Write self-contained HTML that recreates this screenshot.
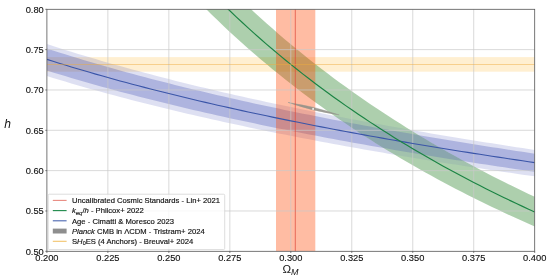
<!DOCTYPE html>
<html><head><meta charset="utf-8"><style>
html,body{margin:0;padding:0;background:#fff;}
svg{display:block;font-family:"Liberation Sans",sans-serif;will-change:transform;transform:translateZ(0);}
</style></head><body>
<svg width="550" height="279" viewBox="0 0 550 279">
<rect width="550" height="279" fill="#fff"/>
<defs><clipPath id="gin"><path d="M46.90,-260.93 L53.00,-249.63 L59.10,-238.60 L65.19,-227.84 L71.29,-217.33 L77.39,-207.08 L83.49,-197.06 L89.58,-187.27 L95.68,-177.70 L101.78,-168.35 L107.87,-159.20 L113.97,-150.26 L120.07,-141.51 L126.17,-132.95 L132.27,-124.57 L138.36,-116.37 L144.46,-108.34 L150.56,-100.47 L156.65,-92.77 L162.75,-85.22 L168.85,-77.82 L174.95,-70.57 L181.04,-63.46 L187.14,-56.49 L193.24,-49.65 L199.34,-42.94 L205.44,-36.36 L211.53,-29.90 L217.63,-23.56 L223.73,-17.34 L229.83,-11.23 L235.92,-5.23 L242.02,0.66 L248.12,6.44 L254.22,12.13 L260.31,17.72 L266.41,23.21 L272.51,28.60 L278.61,33.91 L284.70,39.13 L290.80,44.26 L296.90,49.30 L303.00,54.26 L309.09,59.14 L315.19,63.95 L321.29,68.67 L327.39,73.32 L333.48,77.90 L339.58,82.40 L345.68,86.84 L351.77,91.21 L357.87,95.51 L363.97,99.74 L370.07,103.92 L376.17,108.03 L382.26,112.08 L388.36,116.06 L394.46,120.00 L400.56,123.87 L406.65,127.69 L412.75,131.45 L418.85,135.16 L424.94,138.82 L431.04,142.43 L437.14,145.99 L443.24,149.49 L449.33,152.95 L455.43,156.37 L461.53,159.73 L467.63,163.05 L473.73,166.33 L479.82,169.56 L485.92,172.76 L492.02,175.91 L498.12,179.01 L504.21,182.08 L510.31,185.11 L516.41,188.10 L522.51,191.06 L528.60,193.97 L534.70,196.85 L534.70,226.50 L528.60,223.80 L522.51,221.08 L516.41,218.31 L510.31,215.52 L504.21,212.68 L498.12,209.81 L492.02,206.91 L485.92,203.96 L479.82,200.98 L473.73,197.95 L467.63,194.89 L461.53,191.78 L455.43,188.63 L449.33,185.44 L443.24,182.20 L437.14,178.92 L431.04,175.60 L424.94,172.22 L418.85,168.80 L412.75,165.33 L406.65,161.81 L400.56,158.24 L394.46,154.62 L388.36,150.94 L382.26,147.21 L376.17,143.42 L370.07,139.58 L363.97,135.68 L357.87,131.72 L351.77,127.69 L345.68,123.61 L339.58,119.46 L333.48,115.25 L327.39,110.97 L321.29,106.62 L315.19,102.20 L309.09,97.71 L303.00,93.14 L296.90,88.50 L290.80,83.78 L284.70,78.99 L278.61,74.11 L272.51,69.15 L266.41,64.10 L260.31,58.96 L254.22,53.74 L248.12,48.42 L242.02,43.01 L235.92,37.50 L229.83,31.89 L223.73,26.17 L217.63,20.35 L211.53,14.43 L205.44,8.39 L199.34,2.23 L193.24,-4.04 L187.14,-10.44 L181.04,-16.96 L174.95,-23.61 L168.85,-30.39 L162.75,-37.31 L156.65,-44.37 L150.56,-51.57 L144.46,-58.93 L138.36,-66.44 L132.27,-74.11 L126.17,-81.95 L120.07,-89.96 L113.97,-98.14 L107.87,-106.50 L101.78,-115.05 L95.68,-123.80 L89.58,-132.75 L83.49,-141.90 L77.39,-151.27 L71.29,-160.87 L65.19,-170.69 L59.10,-180.76 L53.00,-191.07 L46.90,-201.64Z"/></clipPath><clipPath id="gout"><path clip-rule="evenodd" d="M0,0H550V279H0Z M46.90,-260.93 L53.00,-249.63 L59.10,-238.60 L65.19,-227.84 L71.29,-217.33 L77.39,-207.08 L83.49,-197.06 L89.58,-187.27 L95.68,-177.70 L101.78,-168.35 L107.87,-159.20 L113.97,-150.26 L120.07,-141.51 L126.17,-132.95 L132.27,-124.57 L138.36,-116.37 L144.46,-108.34 L150.56,-100.47 L156.65,-92.77 L162.75,-85.22 L168.85,-77.82 L174.95,-70.57 L181.04,-63.46 L187.14,-56.49 L193.24,-49.65 L199.34,-42.94 L205.44,-36.36 L211.53,-29.90 L217.63,-23.56 L223.73,-17.34 L229.83,-11.23 L235.92,-5.23 L242.02,0.66 L248.12,6.44 L254.22,12.13 L260.31,17.72 L266.41,23.21 L272.51,28.60 L278.61,33.91 L284.70,39.13 L290.80,44.26 L296.90,49.30 L303.00,54.26 L309.09,59.14 L315.19,63.95 L321.29,68.67 L327.39,73.32 L333.48,77.90 L339.58,82.40 L345.68,86.84 L351.77,91.21 L357.87,95.51 L363.97,99.74 L370.07,103.92 L376.17,108.03 L382.26,112.08 L388.36,116.06 L394.46,120.00 L400.56,123.87 L406.65,127.69 L412.75,131.45 L418.85,135.16 L424.94,138.82 L431.04,142.43 L437.14,145.99 L443.24,149.49 L449.33,152.95 L455.43,156.37 L461.53,159.73 L467.63,163.05 L473.73,166.33 L479.82,169.56 L485.92,172.76 L492.02,175.91 L498.12,179.01 L504.21,182.08 L510.31,185.11 L516.41,188.10 L522.51,191.06 L528.60,193.97 L534.70,196.85 L534.70,226.50 L528.60,223.80 L522.51,221.08 L516.41,218.31 L510.31,215.52 L504.21,212.68 L498.12,209.81 L492.02,206.91 L485.92,203.96 L479.82,200.98 L473.73,197.95 L467.63,194.89 L461.53,191.78 L455.43,188.63 L449.33,185.44 L443.24,182.20 L437.14,178.92 L431.04,175.60 L424.94,172.22 L418.85,168.80 L412.75,165.33 L406.65,161.81 L400.56,158.24 L394.46,154.62 L388.36,150.94 L382.26,147.21 L376.17,143.42 L370.07,139.58 L363.97,135.68 L357.87,131.72 L351.77,127.69 L345.68,123.61 L339.58,119.46 L333.48,115.25 L327.39,110.97 L321.29,106.62 L315.19,102.20 L309.09,97.71 L303.00,93.14 L296.90,88.50 L290.80,83.78 L284.70,78.99 L278.61,74.11 L272.51,69.15 L266.41,64.10 L260.31,58.96 L254.22,53.74 L248.12,48.42 L242.02,43.01 L235.92,37.50 L229.83,31.89 L223.73,26.17 L217.63,20.35 L211.53,14.43 L205.44,8.39 L199.34,2.23 L193.24,-4.04 L187.14,-10.44 L181.04,-16.96 L174.95,-23.61 L168.85,-30.39 L162.75,-37.31 L156.65,-44.37 L150.56,-51.57 L144.46,-58.93 L138.36,-66.44 L132.27,-74.11 L126.17,-81.95 L120.07,-89.96 L113.97,-98.14 L107.87,-106.50 L101.78,-115.05 L95.68,-123.80 L89.58,-132.75 L83.49,-141.90 L77.39,-151.27 L71.29,-160.87 L65.19,-170.69 L59.10,-180.76 L53.00,-191.07 L46.90,-201.64Z"/></clipPath><clipPath id="c"><rect x="46.9" y="9.3" width="487.80000000000007" height="242.0"/></clipPath></defs>
<g clip-path="url(#c)">
<rect x="46.9" y="57.1" width="487.80000000000007" height="14.6" fill="#ffa500" fill-opacity="0.18"/>
<g clip-path="url(#gout)"><path d="M46.90,44.04 L53.00,46.01 L59.10,47.96 L65.19,49.88 L71.29,51.78 L77.39,53.65 L83.49,55.50 L89.58,57.32 L95.68,59.12 L101.78,60.90 L107.87,62.66 L113.97,64.39 L120.07,66.10 L126.17,67.80 L132.27,69.47 L138.36,71.12 L144.46,72.75 L150.56,74.37 L156.65,75.97 L162.75,77.54 L168.85,79.10 L174.95,80.65 L181.04,82.17 L187.14,83.68 L193.24,85.18 L199.34,86.65 L205.44,88.11 L211.53,89.56 L217.63,90.99 L223.73,92.41 L229.83,93.81 L235.92,95.20 L242.02,96.57 L248.12,97.93 L254.22,99.28 L260.31,100.61 L266.41,101.93 L272.51,103.24 L278.61,104.53 L284.70,105.81 L290.80,107.08 L296.90,108.34 L303.00,109.59 L309.09,110.82 L315.19,112.05 L321.29,113.26 L327.39,114.46 L333.48,115.65 L339.58,116.83 L345.68,118.00 L351.77,119.16 L357.87,120.31 L363.97,121.45 L370.07,122.58 L376.17,123.70 L382.26,124.82 L388.36,125.92 L394.46,127.01 L400.56,128.09 L406.65,129.17 L412.75,130.24 L418.85,131.29 L424.94,132.34 L431.04,133.38 L437.14,134.41 L443.24,135.44 L449.33,136.45 L455.43,137.46 L461.53,138.46 L467.63,139.46 L473.73,140.44 L479.82,141.42 L485.92,142.39 L492.02,143.35 L498.12,144.31 L504.21,145.26 L510.31,146.20 L516.41,147.13 L522.51,148.06 L528.60,148.98 L534.70,149.90 L534.70,176.37 L528.60,175.50 L522.51,174.63 L516.41,173.75 L510.31,172.86 L504.21,171.97 L498.12,171.07 L492.02,170.17 L485.92,169.25 L479.82,168.33 L473.73,167.41 L467.63,166.47 L461.53,165.53 L455.43,164.59 L449.33,163.63 L443.24,162.67 L437.14,161.70 L431.04,160.72 L424.94,159.73 L418.85,158.74 L412.75,157.74 L406.65,156.73 L400.56,155.71 L394.46,154.68 L388.36,153.65 L382.26,152.60 L376.17,151.55 L370.07,150.49 L363.97,149.42 L357.87,148.34 L351.77,147.25 L345.68,146.15 L339.58,145.04 L333.48,143.92 L327.39,142.79 L321.29,141.65 L315.19,140.50 L309.09,139.34 L303.00,138.17 L296.90,136.99 L290.80,135.80 L284.70,134.60 L278.61,133.38 L272.51,132.15 L266.41,130.92 L260.31,129.67 L254.22,128.40 L248.12,127.13 L242.02,125.84 L235.92,124.54 L229.83,123.22 L223.73,121.89 L217.63,120.55 L211.53,119.20 L205.44,117.83 L199.34,116.44 L193.24,115.04 L187.14,113.63 L181.04,112.20 L174.95,110.75 L168.85,109.29 L162.75,107.81 L156.65,106.31 L150.56,104.80 L144.46,103.27 L138.36,101.72 L132.27,100.16 L126.17,98.57 L120.07,96.97 L113.97,95.35 L107.87,93.70 L101.78,92.04 L95.68,90.35 L89.58,88.65 L83.49,86.92 L77.39,85.17 L71.29,83.40 L65.19,81.60 L59.10,79.78 L53.00,77.93 L46.90,76.06Z" fill="#3c48b0" fill-opacity="0.17"/>
<path d="M46.90,48.56 L53.00,50.52 L59.10,52.45 L65.19,54.36 L71.29,56.24 L77.39,58.10 L83.49,59.94 L89.58,61.75 L95.68,63.53 L101.78,65.30 L107.87,67.04 L113.97,68.76 L120.07,70.46 L126.17,72.14 L132.27,73.80 L138.36,75.44 L144.46,77.07 L150.56,78.67 L156.65,80.25 L162.75,81.82 L168.85,83.37 L174.95,84.90 L181.04,86.41 L187.14,87.91 L193.24,89.39 L199.34,90.86 L205.44,92.31 L211.53,93.75 L217.63,95.17 L223.73,96.57 L229.83,97.96 L235.92,99.34 L242.02,100.70 L248.12,102.05 L254.22,103.39 L260.31,104.71 L266.41,106.02 L272.51,107.32 L278.61,108.61 L284.70,109.88 L290.80,111.14 L296.90,112.39 L303.00,113.63 L309.09,114.85 L315.19,116.07 L321.29,117.27 L327.39,118.46 L333.48,119.65 L339.58,120.82 L345.68,121.98 L351.77,123.13 L357.87,124.27 L363.97,125.40 L370.07,126.53 L376.17,127.64 L382.26,128.74 L388.36,129.84 L394.46,130.92 L400.56,132.00 L406.65,133.06 L412.75,134.12 L418.85,135.17 L424.94,136.21 L431.04,137.24 L437.14,138.27 L443.24,139.28 L449.33,140.29 L455.43,141.29 L461.53,142.29 L467.63,143.27 L473.73,144.25 L479.82,145.22 L485.92,146.18 L492.02,147.14 L498.12,148.09 L504.21,149.03 L510.31,149.96 L516.41,150.89 L522.51,151.81 L528.60,152.73 L534.70,153.64 L534.70,171.79 L528.60,170.92 L522.51,170.04 L516.41,169.15 L510.31,168.25 L504.21,167.35 L498.12,166.45 L492.02,165.53 L485.92,164.61 L479.82,163.68 L473.73,162.75 L467.63,161.80 L461.53,160.85 L455.43,159.90 L449.33,158.93 L443.24,157.96 L437.14,156.98 L431.04,155.99 L424.94,155.00 L418.85,154.00 L412.75,152.98 L406.65,151.96 L400.56,150.94 L394.46,149.90 L388.36,148.85 L382.26,147.80 L376.17,146.74 L370.07,145.67 L363.97,144.58 L357.87,143.49 L351.77,142.39 L345.68,141.28 L339.58,140.16 L333.48,139.03 L327.39,137.90 L321.29,136.75 L315.19,135.59 L309.09,134.41 L303.00,133.23 L296.90,132.04 L290.80,130.84 L284.70,129.62 L278.61,128.39 L272.51,127.16 L266.41,125.91 L260.31,124.64 L254.22,123.37 L248.12,122.08 L242.02,120.78 L235.92,119.46 L229.83,118.14 L223.73,116.80 L217.63,115.44 L211.53,114.07 L205.44,112.69 L199.34,111.29 L193.24,109.88 L187.14,108.45 L181.04,107.01 L174.95,105.55 L168.85,104.07 L162.75,102.58 L156.65,101.07 L150.56,99.54 L144.46,98.00 L138.36,96.43 L132.27,94.85 L126.17,93.25 L120.07,91.63 L113.97,89.99 L107.87,88.34 L101.78,86.66 L95.68,84.96 L89.58,83.23 L83.49,81.49 L77.39,79.72 L71.29,77.93 L65.19,76.12 L59.10,74.28 L53.00,72.41 L46.90,70.52Z" fill="#3c48b0" fill-opacity="0.29"/></g>
<path d="M46.90,-260.93 L53.00,-249.63 L59.10,-238.60 L65.19,-227.84 L71.29,-217.33 L77.39,-207.08 L83.49,-197.06 L89.58,-187.27 L95.68,-177.70 L101.78,-168.35 L107.87,-159.20 L113.97,-150.26 L120.07,-141.51 L126.17,-132.95 L132.27,-124.57 L138.36,-116.37 L144.46,-108.34 L150.56,-100.47 L156.65,-92.77 L162.75,-85.22 L168.85,-77.82 L174.95,-70.57 L181.04,-63.46 L187.14,-56.49 L193.24,-49.65 L199.34,-42.94 L205.44,-36.36 L211.53,-29.90 L217.63,-23.56 L223.73,-17.34 L229.83,-11.23 L235.92,-5.23 L242.02,0.66 L248.12,6.44 L254.22,12.13 L260.31,17.72 L266.41,23.21 L272.51,28.60 L278.61,33.91 L284.70,39.13 L290.80,44.26 L296.90,49.30 L303.00,54.26 L309.09,59.14 L315.19,63.95 L321.29,68.67 L327.39,73.32 L333.48,77.90 L339.58,82.40 L345.68,86.84 L351.77,91.21 L357.87,95.51 L363.97,99.74 L370.07,103.92 L376.17,108.03 L382.26,112.08 L388.36,116.06 L394.46,120.00 L400.56,123.87 L406.65,127.69 L412.75,131.45 L418.85,135.16 L424.94,138.82 L431.04,142.43 L437.14,145.99 L443.24,149.49 L449.33,152.95 L455.43,156.37 L461.53,159.73 L467.63,163.05 L473.73,166.33 L479.82,169.56 L485.92,172.76 L492.02,175.91 L498.12,179.01 L504.21,182.08 L510.31,185.11 L516.41,188.10 L522.51,191.06 L528.60,193.97 L534.70,196.85 L534.70,226.50 L528.60,223.80 L522.51,221.08 L516.41,218.31 L510.31,215.52 L504.21,212.68 L498.12,209.81 L492.02,206.91 L485.92,203.96 L479.82,200.98 L473.73,197.95 L467.63,194.89 L461.53,191.78 L455.43,188.63 L449.33,185.44 L443.24,182.20 L437.14,178.92 L431.04,175.60 L424.94,172.22 L418.85,168.80 L412.75,165.33 L406.65,161.81 L400.56,158.24 L394.46,154.62 L388.36,150.94 L382.26,147.21 L376.17,143.42 L370.07,139.58 L363.97,135.68 L357.87,131.72 L351.77,127.69 L345.68,123.61 L339.58,119.46 L333.48,115.25 L327.39,110.97 L321.29,106.62 L315.19,102.20 L309.09,97.71 L303.00,93.14 L296.90,88.50 L290.80,83.78 L284.70,78.99 L278.61,74.11 L272.51,69.15 L266.41,64.10 L260.31,58.96 L254.22,53.74 L248.12,48.42 L242.02,43.01 L235.92,37.50 L229.83,31.89 L223.73,26.17 L217.63,20.35 L211.53,14.43 L205.44,8.39 L199.34,2.23 L193.24,-4.04 L187.14,-10.44 L181.04,-16.96 L174.95,-23.61 L168.85,-30.39 L162.75,-37.31 L156.65,-44.37 L150.56,-51.57 L144.46,-58.93 L138.36,-66.44 L132.27,-74.11 L126.17,-81.95 L120.07,-89.96 L113.97,-98.14 L107.87,-106.50 L101.78,-115.05 L95.68,-123.80 L89.58,-132.75 L83.49,-141.90 L77.39,-151.27 L71.29,-160.87 L65.19,-170.69 L59.10,-180.76 L53.00,-191.07 L46.90,-201.64Z" fill="#1d7a1d" fill-opacity="0.36"/>
<g clip-path="url(#gin)"><path d="M46.90,44.04 L53.00,46.01 L59.10,47.96 L65.19,49.88 L71.29,51.78 L77.39,53.65 L83.49,55.50 L89.58,57.32 L95.68,59.12 L101.78,60.90 L107.87,62.66 L113.97,64.39 L120.07,66.10 L126.17,67.80 L132.27,69.47 L138.36,71.12 L144.46,72.75 L150.56,74.37 L156.65,75.97 L162.75,77.54 L168.85,79.10 L174.95,80.65 L181.04,82.17 L187.14,83.68 L193.24,85.18 L199.34,86.65 L205.44,88.11 L211.53,89.56 L217.63,90.99 L223.73,92.41 L229.83,93.81 L235.92,95.20 L242.02,96.57 L248.12,97.93 L254.22,99.28 L260.31,100.61 L266.41,101.93 L272.51,103.24 L278.61,104.53 L284.70,105.81 L290.80,107.08 L296.90,108.34 L303.00,109.59 L309.09,110.82 L315.19,112.05 L321.29,113.26 L327.39,114.46 L333.48,115.65 L339.58,116.83 L345.68,118.00 L351.77,119.16 L357.87,120.31 L363.97,121.45 L370.07,122.58 L376.17,123.70 L382.26,124.82 L388.36,125.92 L394.46,127.01 L400.56,128.09 L406.65,129.17 L412.75,130.24 L418.85,131.29 L424.94,132.34 L431.04,133.38 L437.14,134.41 L443.24,135.44 L449.33,136.45 L455.43,137.46 L461.53,138.46 L467.63,139.46 L473.73,140.44 L479.82,141.42 L485.92,142.39 L492.02,143.35 L498.12,144.31 L504.21,145.26 L510.31,146.20 L516.41,147.13 L522.51,148.06 L528.60,148.98 L534.70,149.90 L534.70,176.37 L528.60,175.50 L522.51,174.63 L516.41,173.75 L510.31,172.86 L504.21,171.97 L498.12,171.07 L492.02,170.17 L485.92,169.25 L479.82,168.33 L473.73,167.41 L467.63,166.47 L461.53,165.53 L455.43,164.59 L449.33,163.63 L443.24,162.67 L437.14,161.70 L431.04,160.72 L424.94,159.73 L418.85,158.74 L412.75,157.74 L406.65,156.73 L400.56,155.71 L394.46,154.68 L388.36,153.65 L382.26,152.60 L376.17,151.55 L370.07,150.49 L363.97,149.42 L357.87,148.34 L351.77,147.25 L345.68,146.15 L339.58,145.04 L333.48,143.92 L327.39,142.79 L321.29,141.65 L315.19,140.50 L309.09,139.34 L303.00,138.17 L296.90,136.99 L290.80,135.80 L284.70,134.60 L278.61,133.38 L272.51,132.15 L266.41,130.92 L260.31,129.67 L254.22,128.40 L248.12,127.13 L242.02,125.84 L235.92,124.54 L229.83,123.22 L223.73,121.89 L217.63,120.55 L211.53,119.20 L205.44,117.83 L199.34,116.44 L193.24,115.04 L187.14,113.63 L181.04,112.20 L174.95,110.75 L168.85,109.29 L162.75,107.81 L156.65,106.31 L150.56,104.80 L144.46,103.27 L138.36,101.72 L132.27,100.16 L126.17,98.57 L120.07,96.97 L113.97,95.35 L107.87,93.70 L101.78,92.04 L95.68,90.35 L89.58,88.65 L83.49,86.92 L77.39,85.17 L71.29,83.40 L65.19,81.60 L59.10,79.78 L53.00,77.93 L46.90,76.06Z" fill="#3c48b0" fill-opacity="0.09"/>
<path d="M46.90,48.56 L53.00,50.52 L59.10,52.45 L65.19,54.36 L71.29,56.24 L77.39,58.10 L83.49,59.94 L89.58,61.75 L95.68,63.53 L101.78,65.30 L107.87,67.04 L113.97,68.76 L120.07,70.46 L126.17,72.14 L132.27,73.80 L138.36,75.44 L144.46,77.07 L150.56,78.67 L156.65,80.25 L162.75,81.82 L168.85,83.37 L174.95,84.90 L181.04,86.41 L187.14,87.91 L193.24,89.39 L199.34,90.86 L205.44,92.31 L211.53,93.75 L217.63,95.17 L223.73,96.57 L229.83,97.96 L235.92,99.34 L242.02,100.70 L248.12,102.05 L254.22,103.39 L260.31,104.71 L266.41,106.02 L272.51,107.32 L278.61,108.61 L284.70,109.88 L290.80,111.14 L296.90,112.39 L303.00,113.63 L309.09,114.85 L315.19,116.07 L321.29,117.27 L327.39,118.46 L333.48,119.65 L339.58,120.82 L345.68,121.98 L351.77,123.13 L357.87,124.27 L363.97,125.40 L370.07,126.53 L376.17,127.64 L382.26,128.74 L388.36,129.84 L394.46,130.92 L400.56,132.00 L406.65,133.06 L412.75,134.12 L418.85,135.17 L424.94,136.21 L431.04,137.24 L437.14,138.27 L443.24,139.28 L449.33,140.29 L455.43,141.29 L461.53,142.29 L467.63,143.27 L473.73,144.25 L479.82,145.22 L485.92,146.18 L492.02,147.14 L498.12,148.09 L504.21,149.03 L510.31,149.96 L516.41,150.89 L522.51,151.81 L528.60,152.73 L534.70,153.64 L534.70,171.79 L528.60,170.92 L522.51,170.04 L516.41,169.15 L510.31,168.25 L504.21,167.35 L498.12,166.45 L492.02,165.53 L485.92,164.61 L479.82,163.68 L473.73,162.75 L467.63,161.80 L461.53,160.85 L455.43,159.90 L449.33,158.93 L443.24,157.96 L437.14,156.98 L431.04,155.99 L424.94,155.00 L418.85,154.00 L412.75,152.98 L406.65,151.96 L400.56,150.94 L394.46,149.90 L388.36,148.85 L382.26,147.80 L376.17,146.74 L370.07,145.67 L363.97,144.58 L357.87,143.49 L351.77,142.39 L345.68,141.28 L339.58,140.16 L333.48,139.03 L327.39,137.90 L321.29,136.75 L315.19,135.59 L309.09,134.41 L303.00,133.23 L296.90,132.04 L290.80,130.84 L284.70,129.62 L278.61,128.39 L272.51,127.16 L266.41,125.91 L260.31,124.64 L254.22,123.37 L248.12,122.08 L242.02,120.78 L235.92,119.46 L229.83,118.14 L223.73,116.80 L217.63,115.44 L211.53,114.07 L205.44,112.69 L199.34,111.29 L193.24,109.88 L187.14,108.45 L181.04,107.01 L174.95,105.55 L168.85,104.07 L162.75,102.58 L156.65,101.07 L150.56,99.54 L144.46,98.00 L138.36,96.43 L132.27,94.85 L126.17,93.25 L120.07,91.63 L113.97,89.99 L107.87,88.34 L101.78,86.66 L95.68,84.96 L89.58,83.23 L83.49,81.49 L77.39,79.72 L71.29,77.93 L65.19,76.12 L59.10,74.28 L53.00,72.41 L46.90,70.52Z" fill="#3c48b0" fill-opacity="0.23"/></g>
<rect x="276" y="9.3" width="39.3" height="242.0" fill="#ff4500" fill-opacity="0.36"/>
<path d="M288,102.4 Q313.6,106.0 339.2,114.9 Q312.6,111.2 288,102.4Z" fill="#8c8c84" fill-opacity="0.85" stroke="#9a9a92" stroke-width="0.5" stroke-opacity="0.85"/>
<circle cx="313.1" cy="108.9" r="0.9" fill="#fff"/>
<g stroke="#c9c9c9" stroke-width="0.7"><line x1="107.87" y1="9.30" x2="107.87" y2="251.30"/><line x1="168.85" y1="9.30" x2="168.85" y2="251.30"/><line x1="229.83" y1="9.30" x2="229.83" y2="251.30"/><line x1="290.80" y1="9.30" x2="290.80" y2="251.30"/><line x1="351.77" y1="9.30" x2="351.77" y2="251.30"/><line x1="412.75" y1="9.30" x2="412.75" y2="251.30"/><line x1="473.73" y1="9.30" x2="473.73" y2="251.30"/><line x1="46.90" y1="210.97" x2="534.70" y2="210.97"/><line x1="46.90" y1="170.63" x2="534.70" y2="170.63"/><line x1="46.90" y1="130.30" x2="534.70" y2="130.30"/><line x1="46.90" y1="89.97" x2="534.70" y2="89.97"/><line x1="46.90" y1="49.63" x2="534.70" y2="49.63"/></g>
<line x1="295.3" x2="295.3" y1="9.3" y2="251.3" stroke="#dd4a3a" stroke-width="0.8" stroke-opacity="0.9"/>
<path d="M46.90,59.39 L53.00,61.32 L59.10,63.22 L65.19,65.09 L71.29,66.94 L77.39,68.77 L83.49,70.57 L89.58,72.34 L95.68,74.10 L101.78,75.83 L107.87,77.54 L113.97,79.23 L120.07,80.91 L126.17,82.56 L132.27,84.19 L138.36,85.80 L144.46,87.39 L150.56,88.96 L156.65,90.52 L162.75,92.06 L168.85,93.58 L174.95,95.08 L181.04,96.57 L187.14,98.04 L193.24,99.50 L199.34,100.94 L205.44,102.36 L211.53,103.77 L217.63,105.17 L223.73,106.55 L229.83,107.91 L235.92,109.27 L242.02,110.61 L248.12,111.93 L254.22,113.24 L260.31,114.54 L266.41,115.83 L272.51,117.10 L278.61,118.37 L284.70,119.62 L290.80,120.85 L296.90,122.08 L303.00,123.30 L309.09,124.50 L315.19,125.69 L321.29,126.88 L327.39,128.05 L333.48,129.21 L339.58,130.36 L345.68,131.50 L351.77,132.63 L357.87,133.75 L363.97,134.86 L370.07,135.97 L376.17,137.06 L382.26,138.14 L388.36,139.22 L394.46,140.28 L400.56,141.34 L406.65,142.39 L412.75,143.42 L418.85,144.46 L424.94,145.48 L431.04,146.49 L437.14,147.50 L443.24,148.50 L449.33,149.49 L455.43,150.47 L461.53,151.44 L467.63,152.41 L473.73,153.37 L479.82,154.33 L485.92,155.27 L492.02,156.21 L498.12,157.14 L504.21,158.07 L510.31,158.99 L516.41,159.90 L522.51,160.80 L528.60,161.70 L534.70,162.59" fill="none" stroke="#3a55a8" stroke-width="1.1"/>
<path d="M46.90,-230.68 L53.00,-219.75 L59.10,-209.09 L65.19,-198.68 L71.29,-188.53 L77.39,-178.61 L83.49,-168.92 L89.58,-159.45 L95.68,-150.20 L101.78,-141.16 L107.87,-132.31 L113.97,-123.67 L120.07,-115.21 L126.17,-106.93 L132.27,-98.83 L138.36,-90.90 L144.46,-83.13 L150.56,-75.52 L156.65,-68.07 L162.75,-60.77 L168.85,-53.62 L174.95,-46.61 L181.04,-39.73 L187.14,-32.99 L193.24,-26.38 L199.34,-19.89 L205.44,-13.53 L211.53,-7.29 L217.63,-1.16 L223.73,4.86 L229.83,10.77 L235.92,16.57 L242.02,22.26 L248.12,27.86 L254.22,33.36 L260.31,38.76 L266.41,44.07 L272.51,49.29 L278.61,54.42 L284.70,59.46 L290.80,64.42 L296.90,69.30 L303.00,74.10 L309.09,78.82 L315.19,83.46 L321.29,88.03 L327.39,92.53 L333.48,96.95 L339.58,101.31 L345.68,105.60 L351.77,109.82 L357.87,113.98 L363.97,118.08 L370.07,122.11 L376.17,126.09 L382.26,130.00 L388.36,133.86 L394.46,137.66 L400.56,141.41 L406.65,145.10 L412.75,148.74 L418.85,152.33 L424.94,155.86 L431.04,159.35 L437.14,162.79 L443.24,166.18 L449.33,169.53 L455.43,172.83 L461.53,176.08 L467.63,179.30 L473.73,182.46 L479.82,185.59 L485.92,188.68 L492.02,191.72 L498.12,194.73 L504.21,197.70 L510.31,200.62 L516.41,203.52 L522.51,206.37 L528.60,209.19 L534.70,211.98" fill="none" stroke="#1b8444" stroke-width="1.15"/>
<line x1="46.9" x2="534.7" y1="64.5" y2="64.5" stroke="#eeaa3c" stroke-opacity="0.62" stroke-width="0.75"/>
</g>
<rect x="46.9" y="9.3" width="487.80000000000007" height="242.0" fill="none" stroke="#555" stroke-width="0.8"/>
<g stroke="#444" stroke-width="0.7"><line x1="46.90" y1="251.30" x2="46.90" y2="252.90"/><line x1="107.87" y1="251.30" x2="107.87" y2="252.90"/><line x1="168.85" y1="251.30" x2="168.85" y2="252.90"/><line x1="229.83" y1="251.30" x2="229.83" y2="252.90"/><line x1="290.80" y1="251.30" x2="290.80" y2="252.90"/><line x1="351.77" y1="251.30" x2="351.77" y2="252.90"/><line x1="412.75" y1="251.30" x2="412.75" y2="252.90"/><line x1="473.73" y1="251.30" x2="473.73" y2="252.90"/><line x1="534.70" y1="251.30" x2="534.70" y2="252.90"/><line x1="45.30" y1="251.30" x2="46.90" y2="251.30"/><line x1="45.30" y1="210.97" x2="46.90" y2="210.97"/><line x1="45.30" y1="170.63" x2="46.90" y2="170.63"/><line x1="45.30" y1="130.30" x2="46.90" y2="130.30"/><line x1="45.30" y1="89.97" x2="46.90" y2="89.97"/><line x1="45.30" y1="49.63" x2="46.90" y2="49.63"/><line x1="45.30" y1="9.30" x2="46.90" y2="9.30"/></g>
<g font-size="9.3px" fill="#111" stroke="#111" stroke-width="0.12"><text x="46.90" y="260.9" text-anchor="middle">0.200</text><text x="107.87" y="260.9" text-anchor="middle">0.225</text><text x="168.85" y="260.9" text-anchor="middle">0.250</text><text x="229.83" y="260.9" text-anchor="middle">0.275</text><text x="290.80" y="260.9" text-anchor="middle">0.300</text><text x="351.77" y="260.9" text-anchor="middle">0.325</text><text x="412.75" y="260.9" text-anchor="middle">0.350</text><text x="473.73" y="260.9" text-anchor="middle">0.375</text><text x="534.70" y="260.9" text-anchor="middle">0.400</text><text x="43.8" y="254.60" text-anchor="end">0.50</text><text x="43.8" y="214.27" text-anchor="end">0.55</text><text x="43.8" y="173.93" text-anchor="end">0.60</text><text x="43.8" y="133.60" text-anchor="end">0.65</text><text x="43.8" y="93.27" text-anchor="end">0.70</text><text x="43.8" y="52.93" text-anchor="end">0.75</text><text x="43.8" y="12.60" text-anchor="end">0.80</text></g>
<text x="4.3" y="128" font-size="12px" font-style="italic" fill="#111">h</text>
<text x="282.5" y="272.6" font-size="11.5px" fill="#111">Ω<tspan font-size="9px" font-style="italic" dy="2.2">M</tspan></text>
<!-- legend -->
<rect x="48.2" y="194.2" width="176.5" height="55.4" rx="1.2" fill="#fff" fill-opacity="0.8" stroke="#cfcfcf" stroke-width="0.7"/>
<g stroke-width="1.1">
<line x1="52.8" x2="66.6" y1="200.4" y2="200.4" stroke="#e88a80"/>
<line x1="52.8" x2="66.6" y1="210.6" y2="210.6" stroke="#1e8a4a"/>
<line x1="52.8" x2="66.6" y1="220.8" y2="220.8" stroke="#4a66b0"/>
<line x1="52.8" x2="66.6" y1="241.3" y2="241.3" stroke="#f2c36b"/>
</g>
<rect x="52.8" y="228.6" width="13.8" height="4.9" fill="#8e8e8e"/>
<g font-size="7.65px" fill="#111" stroke="#111" stroke-width="0.15">
<text x="72" y="202.8">Uncalibrated Cosmic Standards - Lin+ 2021</text>
<text x="72" y="213.3"><tspan font-style="italic">k</tspan><tspan font-size="5.9px" font-style="italic" dy="1.4">eq</tspan><tspan dy="-1.4">/</tspan><tspan font-style="italic">h</tspan> - Philcox+ 2022</text>
<text x="72" y="223.5">Age - Cimatti &amp; Moresco 2023</text>
<text x="72" y="233.7"><tspan font-style="italic">Planck</tspan> CMB in ΛCDM - Tristram+ 2024</text>
<text x="72" y="243.9">S<tspan font-style="italic">H</tspan><tspan font-size="5.4px" dy="1.4">0</tspan><tspan dy="-1.4">ES (4 Anchors) - Breuval+ 2024</tspan></text>
</g>
</svg>
</body></html>
